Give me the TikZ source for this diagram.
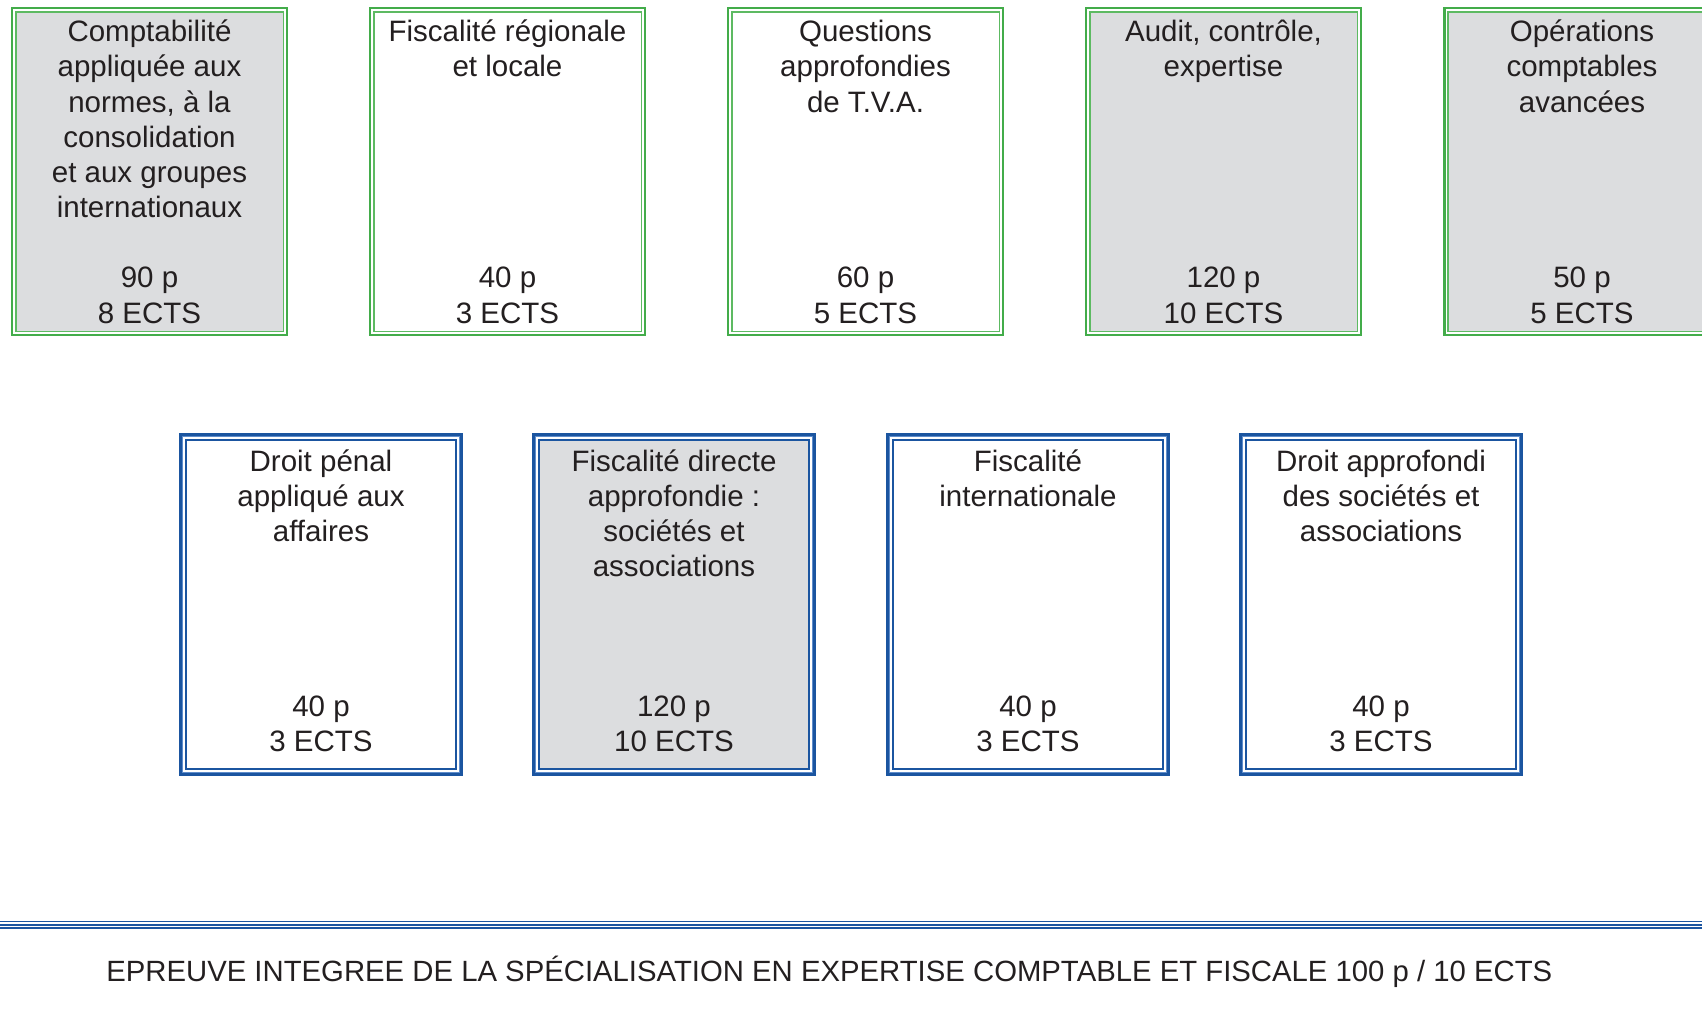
\documentclass[tikz,border=0pt]{standalone}
\usepackage{fontspec}
\setmainfont{Liberation Sans}
\definecolor{gline}{HTML}{43AC4A}
\definecolor{gline2}{HTML}{5DBA62}
\definecolor{bline}{HTML}{1B55A0}
\definecolor{bline2}{HTML}{5F8DCB}
\definecolor{boxgray}{HTML}{DCDDDF}
\definecolor{txtc}{HTML}{231F20}
\newcommand\gbox[3]{%
  \node[frame, minimum width=277pt, minimum height=329pt] (#1) at (#2,171.5) {};
  \draw[gline, line width=2.4pt] ([xshift=1.2pt,yshift=-1.2pt]#1.north west) rectangle ([xshift=-1.2pt,yshift=1.2pt]#1.south east);
  \draw[gline2, line width=1.8pt, fill=#3] ([xshift=4.8pt,yshift=-4.8pt]#1.north west) rectangle ([xshift=-4.8pt,yshift=4.8pt]#1.south east);
}
\newcommand\bbox[3]{%
  \node[frame, minimum width=284pt, minimum height=343pt] (#1) at (#2,604.5) {};
  \draw[bline, line width=3pt] ([xshift=1.5pt,yshift=-1.5pt]#1.north west) rectangle ([xshift=-1.5pt,yshift=1.5pt]#1.south east);
  \draw[bline2, line width=1.2pt] ([xshift=4pt,yshift=-4pt]#1.north west) rectangle ([xshift=-4pt,yshift=4pt]#1.south east);
  \draw[bline, line width=1.6pt, fill=#3] ([xshift=7pt,yshift=-7pt]#1.north west) rectangle ([xshift=-7pt,yshift=7pt]#1.south east);
}
\begin{document}
\begin{tikzpicture}[x=1pt,y=-1pt,
  frame/.style={inner sep=0pt, draw=none},
  txt/.style={font=\fontsize{29.5}{35.3}\selectfont, text=txtc, inner sep=0pt, align=center},
  hline/.style={bline, line width=#1}
]
\useasboundingbox (0,0) rectangle (1702,1012);
% top row
\gbox{g1}{149.5}{boxgray}
\gbox{g2}{507.5}{white}
\gbox{g3}{865.5}{white}
\gbox{g4}{1223.5}{boxgray}
\gbox{g5}{1582}{boxgray}
\node[txt, anchor=north] (g1t) at (g1.center |- 0,16.5) {\strut Comptabilité\\appliquée aux\\normes, à la\\consolidation\\et aux groupes\\internationaux};
\node[txt, anchor=north] (g2t) at (g2.center |- 0,16.5) {\strut Fiscalité régionale\\et locale};
\node[txt, anchor=north] (g3t) at (g3.center |- 0,16.5) {\strut Questions\\approfondies\\de T.V.A.};
\node[txt, anchor=north] (g4t) at (g4.center |- 0,16.5) {\strut Audit, contrôle,\\expertise};
\node[txt, anchor=north] (g5t) at (g5.center |- 0,16.5) {\strut Opérations\\comptables\\avancées};
\node[txt, anchor=base] (g1p) at (g1.center |- 0,287.6) {90 p};
\node[txt, anchor=base] (g1e) at (g1.center |- 0,323.4) {8 ECTS};
\node[txt, anchor=base] (g2p) at (g2.center |- 0,287.6) {40 p};
\node[txt, anchor=base] (g2e) at (g2.center |- 0,323.4) {3 ECTS};
\node[txt, anchor=base] (g3p) at (g3.center |- 0,287.6) {60 p};
\node[txt, anchor=base] (g3e) at (g3.center |- 0,323.4) {5 ECTS};
\node[txt, anchor=base] (g4p) at (g4.center |- 0,287.6) {120 p};
\node[txt, anchor=base] (g4e) at (g4.center |- 0,323.4) {10 ECTS};
\node[txt, anchor=base] (g5p) at (g5.center |- 0,287.6) {50 p};
\node[txt, anchor=base] (g5e) at (g5.center |- 0,323.4) {5 ECTS};
% bottom row
\bbox{b1}{321}{white}
\bbox{b2}{674}{boxgray}
\bbox{b3}{1028}{white}
\bbox{b4}{1381}{white}
\node[txt, anchor=north] (b1t) at (b1.center |- 0,446.1) {\strut Droit pénal\\appliqué aux\\affaires};
\node[txt, anchor=north] (b2t) at (b2.center |- 0,446.1) {\strut Fiscalité directe\\approfondie :\\sociétés et\\associations};
\node[txt, anchor=north] (b3t) at (b3.center |- 0,446.1) {\strut Fiscalité\\internationale};
\node[txt, anchor=north] (b4t) at (b4.center |- 0,446.1) {\strut Droit approfondi\\des sociétés et\\associations};
\node[txt, anchor=base] (b1p) at (b1.center |- 0,716.4) {40 p};
\node[txt, anchor=base] (b1e) at (b1.center |- 0,751.1) {3 ECTS};
\node[txt, anchor=base] (b2p) at (b2.center |- 0,716.4) {120 p};
\node[txt, anchor=base] (b2e) at (b2.center |- 0,751.1) {10 ECTS};
\node[txt, anchor=base] (b3p) at (b3.center |- 0,716.4) {40 p};
\node[txt, anchor=base] (b3e) at (b3.center |- 0,751.1) {3 ECTS};
\node[txt, anchor=base] (b4p) at (b4.center |- 0,716.4) {40 p};
\node[txt, anchor=base] (b4e) at (b4.center |- 0,751.1) {3 ECTS};
% separator lines
\coordinate (la) at (0,921.5);   \coordinate (ra) at (1702,921.5);
\coordinate (lb) at (0,924.6);   \coordinate (rb) at (1702,924.6);
\coordinate (lc) at (0,928);     \coordinate (rc) at (1702,928);
\draw[hline=1.4pt] (la) -- (ra);
\draw[hline=2pt] (lb) -- (rb);
\draw[hline=1.6pt] (lc) -- (rc);
% bottom text
\node[font=\fontsize{29.3}{34}\selectfont, text=txtc, inner sep=0pt, anchor=base] (ep) at (829.3,981) {EPREUVE INTEGREE DE LA SPÉCIALISATION EN EXPERTISE COMPTABLE ET FISCALE 100 p / 10 ECTS};
\end{tikzpicture}
\end{document}
